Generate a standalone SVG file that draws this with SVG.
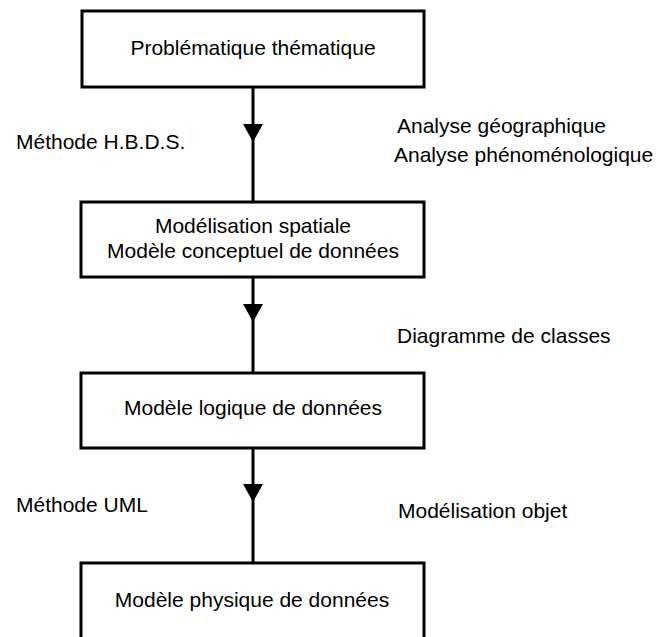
<svg xmlns="http://www.w3.org/2000/svg" width="660" height="637" viewBox="0 0 660 637">
  <style>
    .box { fill: #ffffff; stroke: #000000; stroke-width: 3; }
    .conn { fill: none; stroke: #000000; stroke-width: 3; marker-mid: url(#tri); }
    text { font-family: "Liberation Sans", Arial, sans-serif; font-size: 21px; fill: #000000; }
    .c { text-anchor: middle; }
  </style>
  <defs>
    <marker id="tri" viewBox="0 0 18 20" refX="18" refY="10" markerWidth="18" markerHeight="20" markerUnits="userSpaceOnUse" orient="auto">
      <path d="M0,0 L18,10 L0,20 Z" fill="#000000"/>
    </marker>
  </defs>
  <g id="connectors">
    <path class="conn" d="M253,87 L253,142 L253,202"/>
    <path class="conn" d="M253,277 L253,322 L253,373"/>
    <path class="conn" d="M253,448 L253,502 L253,563"/>
  </g>
  <g id="n1">
    <rect class="box" x="82" y="11" width="342" height="76"/>
    <text class="c" x="253" y="55">Problématique thématique</text>
  </g>
  <g id="n2">
    <rect class="box" x="81" y="202" width="343" height="75"/>
    <text class="c" x="253" y="233">Modélisation spatiale</text>
    <text class="c" x="253" y="258">Modèle conceptuel de données</text>
  </g>
  <g id="n3">
    <rect class="box" x="81" y="373" width="343" height="75"/>
    <text class="c" x="253" y="415">Modèle logique de données</text>
  </g>
  <g id="n4">
    <rect class="box" x="81" y="563" width="343" height="100"/>
    <text class="c" x="252" y="607">Modèle physique de données</text>
  </g>
  <g id="labels">
    <text x="16" y="149">Méthode H.B.D.S.</text>
    <text x="397" y="133">Analyse géographique</text>
    <text x="394" y="162">Analyse phénoménologique</text>
    <text x="397" y="343">Diagramme de classes</text>
    <text x="16" y="512">Méthode UML</text>
    <text x="398" y="518">Modélisation objet</text>
  </g>
</svg>
